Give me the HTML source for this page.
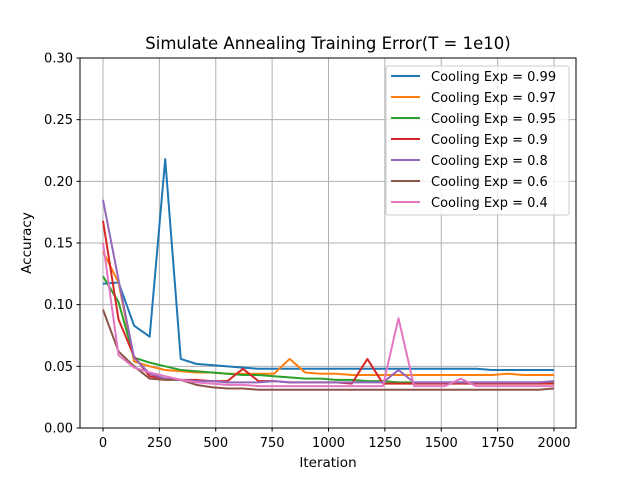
<!DOCTYPE html>
<html><head><meta charset="utf-8"><style>
body{margin:0;background:#fff}
svg{display:block;font-family:"DejaVu Sans","Liberation Sans",sans-serif}
</style></head><body>
<svg id="chart" width="640" height="480" viewBox="0 0 640 480">
<rect width="640" height="480" fill="#fff"/>
<text x="328" y="49" text-anchor="middle" font-size="16.5">Simulate Annealing Training Error(T = 1e10)</text>
<g id="grid"></g>
<g id="series"></g>
<rect x="80" y="58" width="496" height="370" fill="none" stroke="#000" stroke-width="1"/>
<g id="ticks"></g>
<text x="328" y="467" text-anchor="middle" font-size="13.5">Iteration</text>
<text transform="translate(31,243) rotate(-90)" text-anchor="middle" font-size="13.5">Accuracy</text>
<g id="legend"></g>
</svg>
<script>
const labels=["Cooling Exp = 0.99","Cooling Exp = 0.97","Cooling Exp = 0.95","Cooling Exp = 0.9","Cooling Exp = 0.8","Cooling Exp = 0.6","Cooling Exp = 0.4"];
const colors=["#1f77b4","#ff7f0e","#2ca02c","#d62728","#9467bd","#8c564b","#e377c2"];
const xTicks=[0,250,500,750,1000,1250,1500,1750,2000];
const yTicks=[0,0.05,0.10,0.15,0.20,0.25,0.30];
const yTickLabels=["0.00","0.05","0.10","0.15","0.20","0.25","0.30"];
const s099=[0.117,0.118,0.083,0.074,0.218,0.056,0.052,0.051,0.050,0.049,0.048,0.048,0.048,0.048,0.048,0.048,0.048,0.048,0.048,0.048,0.048,0.048,0.048,0.048,0.048,0.047,0.047,0.047,0.047,0.047];
const s097=[0.143,0.118,0.054,0.050,0.047,0.046,0.045,0.045,0.044,0.044,0.044,0.044,0.056,0.045,0.044,0.044,0.043,0.043,0.043,0.043,0.043,0.043,0.043,0.043,0.043,0.043,0.044,0.043,0.043,0.043];
const s095=[0.123,0.102,0.057,0.053,0.050,0.047,0.046,0.045,0.044,0.043,0.043,0.042,0.041,0.040,0.040,0.039,0.039,0.038,0.038,0.037,0.037,0.037,0.037,0.037,0.037,0.037,0.037,0.037,0.037,0.037];
const s09=[0.168,0.088,0.058,0.042,0.040,0.039,0.039,0.038,0.038,0.048,0.038,0.038,0.037,0.037,0.037,0.037,0.036,0.056,0.036,0.036,0.036,0.036,0.036,0.036,0.036,0.036,0.036,0.036,0.036,0.036];
const s08=[0.185,0.120,0.057,0.044,0.040,0.039,0.038,0.038,0.037,0.037,0.037,0.038,0.037,0.037,0.037,0.037,0.037,0.037,0.037,0.047,0.037,0.037,0.037,0.037,0.037,0.037,0.037,0.037,0.037,0.038];
const s06=[0.096,0.062,0.050,0.040,0.039,0.039,0.035,0.033,0.032,0.032,0.031,0.031,0.031,0.031,0.031,0.031,0.031,0.031,0.031,0.031,0.031,0.031,0.031,0.031,0.031,0.031,0.031,0.031,0.031,0.032];
const s04=[0.150,0.059,0.049,0.045,0.042,0.039,0.037,0.036,0.035,0.035,0.034,0.034,0.034,0.034,0.034,0.034,0.034,0.034,0.034,0.089,0.034,0.034,0.034,0.040,0.034,0.034,0.034,0.034,0.034,0.034];
const seriesData=[s099,s097,s095,s09,s08,s06,s04];
const NS="http://www.w3.org/2000/svg";
const X=v=>103+v*(451/2000);
const Y=v=>428-v*(370/0.30);
function mk(t,a,p){const e=document.createElementNS(NS,t);for(const k in a)e.setAttribute(k,a[k]);p.appendChild(e);return e;}
const grid=document.getElementById('grid'),ticks=document.getElementById('ticks');
xTicks.forEach(v=>{
 const g=mk('line',{x1:X(v),x2:X(v),y1:58,y2:428,stroke:'#b0b0b0','stroke-width':1},grid);
 
 
 const t=mk('line',{x1:X(v),x2:X(v),y1:428,y2:431.5,stroke:'#000'},ticks);
 
 
 const l=mk('text',{x:X(v),y:447,'text-anchor':'middle','font-size':13},ticks);l.textContent=v;
 
 
});
yTicks.forEach((v,i)=>{
 const g=mk('line',{x1:80,x2:576,y1:Y(v),y2:Y(v),stroke:'#b0b0b0','stroke-width':1},grid);
 
 
 const t=mk('line',{x1:76.5,x2:80,y1:Y(v),y2:Y(v),stroke:'#000'},ticks);
 
 
 const l=mk('text',{x:73,y:Y(v)+4.5,'text-anchor':'end','font-size':13},ticks);l.textContent=yTickLabels[i];
 
 
});
const sg=document.getElementById('series');
seriesData.forEach((d,si)=>{
 const n=d.length;
 const pts=d.map((v,i)=>X(i*2000/(n-1)).toFixed(2)+','+Y(v).toFixed(2)).join(' ');
 const p=mk('polyline',{points:pts,fill:'none',stroke:colors[si],'stroke-width':2,'stroke-linejoin':'round'},sg);
 
 
});
const lg=document.getElementById('legend');
const box=mk('rect',{x:386,y:66,width:183,height:149,rx:2,fill:'#fff','fill-opacity':0.8,stroke:'#ccc'},lg);


labels.forEach((s,i)=>{
 const y=76+i*21;
 const ln=mk('line',{x1:391,x2:420,y1:y,y2:y,stroke:colors[i],'stroke-width':2},lg);
 
 
 const t=mk('text',{x:431,y:y+5,'font-size':13},lg);t.textContent=s;
 
 
});
</script>
</body></html>
